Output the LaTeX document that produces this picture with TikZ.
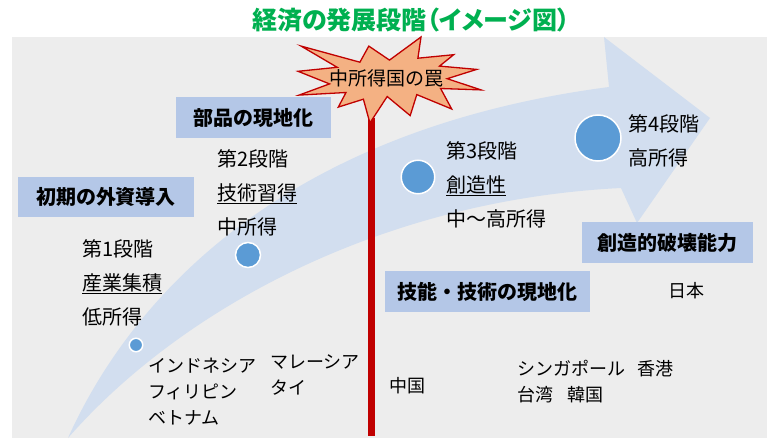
\documentclass[tikz,border=0pt]{standalone}
\usepackage{fontspec}
\setmainfont{Noto Sans CJK JP}
\usepackage{xcolor}
\usepackage{tikz}
\usetikzlibrary{arrows.meta}
\definecolor{titlegreen}{HTML}{00B050}
\definecolor{bggray}{HTML}{EDEDED}
\definecolor{flowblue}{HTML}{D2DEEF}
\definecolor{boxblue}{HTML}{B4C7E7}
\definecolor{dotblue}{HTML}{5B9BD5}
\definecolor{trapred}{HTML}{C00000}
\definecolor{trapfill}{HTML}{F4B183}

\begin{document}
\begin{tikzpicture}[x=1pt, y=-1pt, >=Stealth,
    labelbox/.style={fill=boxblue, inner sep=0pt, font=\fontsize{20}{24}\bfseries\selectfont},
    stagetext/.style={anchor=base west, align=left, inner sep=0pt, font=\fontsize{20}{34}\selectfont},
    countrytext/.style={anchor=base west, align=left, inner sep=0pt, font=\fontsize{18}{26}\selectfont},
    stagedot/.style={circle, fill=dotblue, draw=white, line width=1.5pt, inner sep=0pt}]

    \useasboundingbox (0,0) rectangle (780,444);

    % ── Title ────────────────────────────────────────────────────────────────
    \node[font=\fontsize{25}{28}\bfseries\selectfont\addfontfeatures{RawFeature=+palt},
          text=titlegreen]
        (title) at (411,20) {経済の発展段階（イメージ図）};

    % ── Background panel ─────────────────────────────────────────────────────
    \fill[bggray] (12,37) rectangle (767,438);

    % ── Growth arrow (curved band with head) ─────────────────────────────────
    \fill[flowblue] (68,438) .. controls (130,300) and (280,130) .. (609,87)
        -- (604,37) -- (710,118) -- (637,223) -- (621,188)
        .. controls (380,200) and (180,310) .. (68,438) -- cycle;

    % ── Label boxes ──────────────────────────────────────────────────────────
    \node[labelbox, minimum width=176pt, minimum height=40pt]
        (inflow) at (106,197) {初期の外資導入};
    \node[labelbox, minimum width=155pt, minimum height=41pt]
        (parts) at (253.5,117.5) {部品の現地化};
    \node[labelbox, minimum width=205pt, minimum height=41pt]
        (skills) at (487,291.5) {技能・技術の現地化};
    \node[labelbox, minimum width=171pt, minimum height=41pt]
        (destruct) at (667.5,242.5) {創造的破壊能力};

    % ── Stage dots ───────────────────────────────────────────────────────────
    \node[stagedot, minimum size=13.5pt] (dotone)   at (136,345) {};
    \node[stagedot, minimum size=25pt]   (dottwo)   at (248,255) {};
    \node[stagedot, minimum size=33.5pt] (dotthree) at (418,177) {};
    \node[stagedot, minimum size=46pt]   (dotfour)  at (598,138) {};

    % ── Stage texts (anchored on the last line) ──────────────────────────────
    \node[stagetext] (stageone)   at (82,324.6)  {第1段階\\\underline{産業集積}\\低所得};
    \node[stagetext] (stagetwo)   at (217,234.6) {第2段階\\\underline{技術習得}\\中所得};
    \node[stagetext] (stagethree) at (446,226.6) {第3段階\\\underline{創造性}\\中～高所得};
    \node[stagetext] (stagefour)  at (628,165.6) {第4段階\\高所得};

    % ── Middle income trap: red line + explosion ─────────────────────────────
    \coordinate (trapfoot) at (371,118);
    \coordinate (lineend)  at (371,436);
    \draw[trapred, line width=7pt] (trapfoot) -- (lineend);

    \filldraw[fill=trapfill, draw=trapred, line width=1.3pt, line join=miter]
        (389.5,60.1) -- (421,37) -- (417.9,58.2) -- (453.7,54.7) -- (439.5,66.1)
        -- (476.7,69.4) -- (447.2,78.7) -- (481,89.9) -- (440.6,88.5)
        -- (451.7,109) -- (416.8,94.6) -- (410.2,115.6) -- (387.2,96.5)
        -- (369.9,123) -- (363.4,99.2) -- (338.3,107.1) -- (346,92.5)
        -- (299.1,95.1) -- (329.5,83.9) -- (298,71.3) -- (337.2,67.3)
        -- (301.1,46.1) -- (359.9,62.2) -- (368.8,46.1) -- cycle;
    \node[font=\fontsize{19}{22}\selectfont] (trap) at (386,78) {中所得国の罠};

    % ── Countries ────────────────────────────────────────────────────────────
    \node[countrytext] (asean)  at (148,424.8) {インドネシア\\フィリピン\\ベトナム};
    \node[countrytext] (malay)  at (270,394.8) {マレーシア\\タイ};
    \node[countrytext, anchor=west] (china) at (389,386) {中国};
    \node[countrytext] (nies)   at (517,401.8) {シンガポール\hspace{0.7em}香港\\台湾\hspace{0.8em}韓国};
    \node[countrytext, anchor=center] (japan) at (686,291) {日本};

  \end{tikzpicture}
\end{document}
